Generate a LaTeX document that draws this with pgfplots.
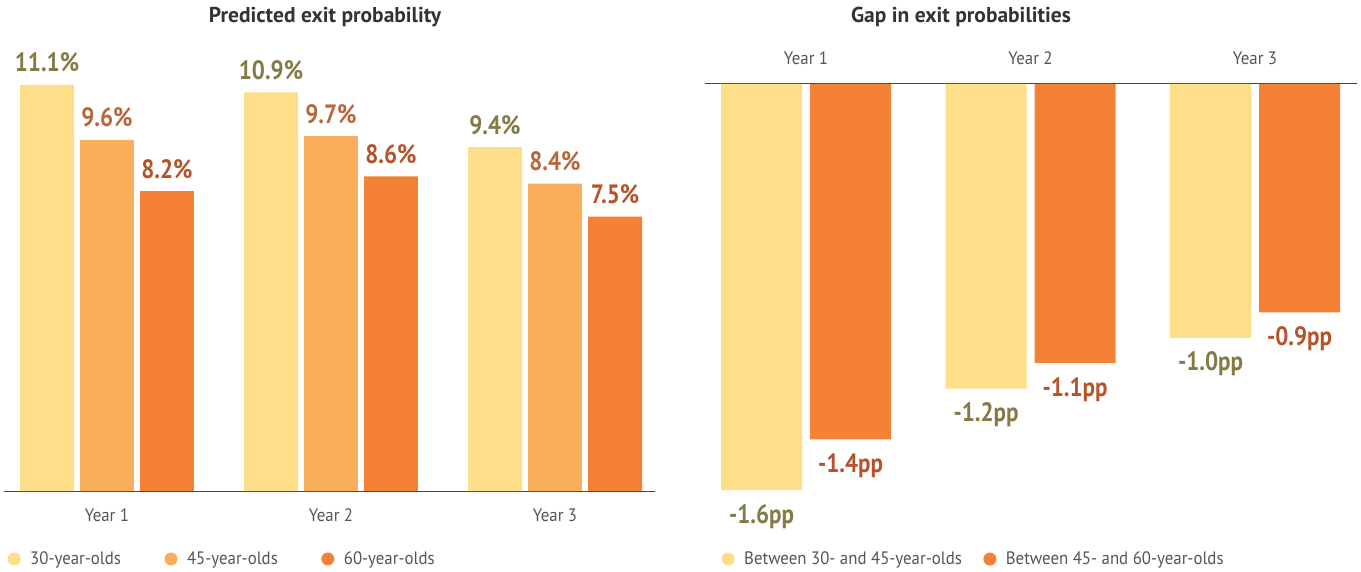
\documentclass[border=0pt]{standalone}
\usepackage{pgfplots}
\pgfplotsset{compat=1.18}
\usepackage{fontspec}
\setmainfont{PT Sans}
\newfontfamily\labfont[FakeStretch=0.87]{PT Sans}
\newfontfamily\condfont[FakeStretch=0.935]{PT Sans}

\definecolor{c1}{HTML}{FDDF8A}
\definecolor{c2}{HTML}{F9AE5C}
\definecolor{c3}{HTML}{F48135}
\definecolor{l1}{HTML}{847A45}
\definecolor{l2}{HTML}{B9663A}
\definecolor{l3}{HTML}{B5532A}
\definecolor{titlegray}{HTML}{333333}
\definecolor{tickgray}{HTML}{555555}
\definecolor{axisgray}{HTML}{444444}

\pgfplotsset{
  common/.style={
    clip=false,
    axis y line=none,
    xtick={0,1,2}, xticklabels={Year 1, Year 2, Year 3},
    major tick length=0pt,
    nodes near coords, point meta=explicit symbolic,
  },
  flat/.style={
    x axis line style={-},
    every outer x axis line/.append style={-},
    axis line style={-, draw=axisgray, line width=1pt},
  },
  circ/.style={fill=#1, draw=none,
    legend image code/.code={\fill[#1] (6.5pt,0pt) circle (6.5pt);}},
}

\begin{document}
\begin{tikzpicture}
\path[use as bounding box] (0pt,0pt) rectangle (1361pt,571pt);

% left: predicted exit probability
\begin{axis}[common,
  at={(4pt,80pt)}, anchor=south west,
  x=224pt, y=36.58pt,
  xmin=-0.4598, xmax=2.446, ymin=0, ymax=11.5,
  ybar=6pt, bar width=54pt,
  axis x line=bottom, flat,
  xticklabel style={font=\fontsize{18}{21}\selectfont\condfont, text=tickgray, anchor=base, yshift=-30pt},
  every node near coord/.append style={font=\fontsize{26.5}{30}\selectfont\labfont\bfseries, anchor=base, yshift=13pt},
  legend columns=3,
  legend style={at={(0.0008,-0.1616)}, anchor=west, draw=none, fill=none,
    font=\fontsize{18}{21}\selectfont\condfont, text=tickgray,
    nodes={inner sep=0pt},
    /tikz/every odd column/.append style={column sep=9.5pt},
    /tikz/every even column/.append style={column sep=43.5pt}},
]
\addplot[circ=c1, every node near coord/.append style={text=l1}]
  coordinates {(0,11.1) [11.1\%] (1,10.9) [10.9\%] (2,9.4) [9.4\%]};
\addplot[circ=c2, every node near coord/.append style={text=l2}]
  coordinates {(0,9.6) [9.6\%] (1,9.7) [9.7\%] (2,8.4) [8.4\%]};
\addplot[circ=c3, every node near coord/.append style={text=l3}]
  coordinates {(0,8.2) [8.2\%] (1,8.6) [8.6\%] (2,7.5) [7.5\%]};
\legend{30-year-olds, 45-year-olds, 60-year-olds}
\end{axis}

% right: gap in exit probabilities
\begin{axis}[common,
  at={(705pt,487pt)}, anchor=north west,
  x=224.5pt, y=253.8pt,
  xmin=-0.45, xmax=2.454, ymin=-1.75, ymax=0,
  ybar=8pt, bar width=81pt,
  axis x line=top, flat,
  xticklabel style={font=\fontsize{18}{21}\selectfont\condfont, text=tickgray, anchor=base, yshift=19pt},
  every node near coord/.append style={font=\fontsize{26.5}{30}\selectfont\labfont\bfseries, anchor=north, inner sep=0pt, yshift=-14pt},
  legend columns=2,
  legend style={at={(0.0207,-0.0695)}, anchor=west, draw=none, fill=none,
    font=\fontsize{18}{21}\selectfont\condfont, text=tickgray,
    nodes={inner sep=0pt},
    /tikz/every odd column/.append style={column sep=9.5pt},
    /tikz/every even column/.append style={column sep=21.5pt}},
]
\addplot[circ=c1, every node near coord/.append style={text=l1}]
  coordinates {(0,-1.6) [-1.6pp] (1,-1.2) [-1.2pp] (2,-1.0) [-1.0pp]};
\addplot[circ=c3, every node near coord/.append style={text=l3}]
  coordinates {(0,-1.4) [-1.4pp] (1,-1.1) [-1.1pp] (2,-0.9) [-0.9pp]};
\legend{Between 30- and 45-year-olds, Between 45- and 60-year-olds}
\end{axis}

\node[anchor=base, font=\fontsize{21.5}{25}\selectfont\bfseries, text=titlegray]
  at (325pt,548pt) {Predicted exit probability};
\node[anchor=base, font=\fontsize{21.5}{25}\selectfont\bfseries, text=titlegray]
  at (961pt,548pt) {Gap in exit probabilities};
\end{tikzpicture}
\end{document}
